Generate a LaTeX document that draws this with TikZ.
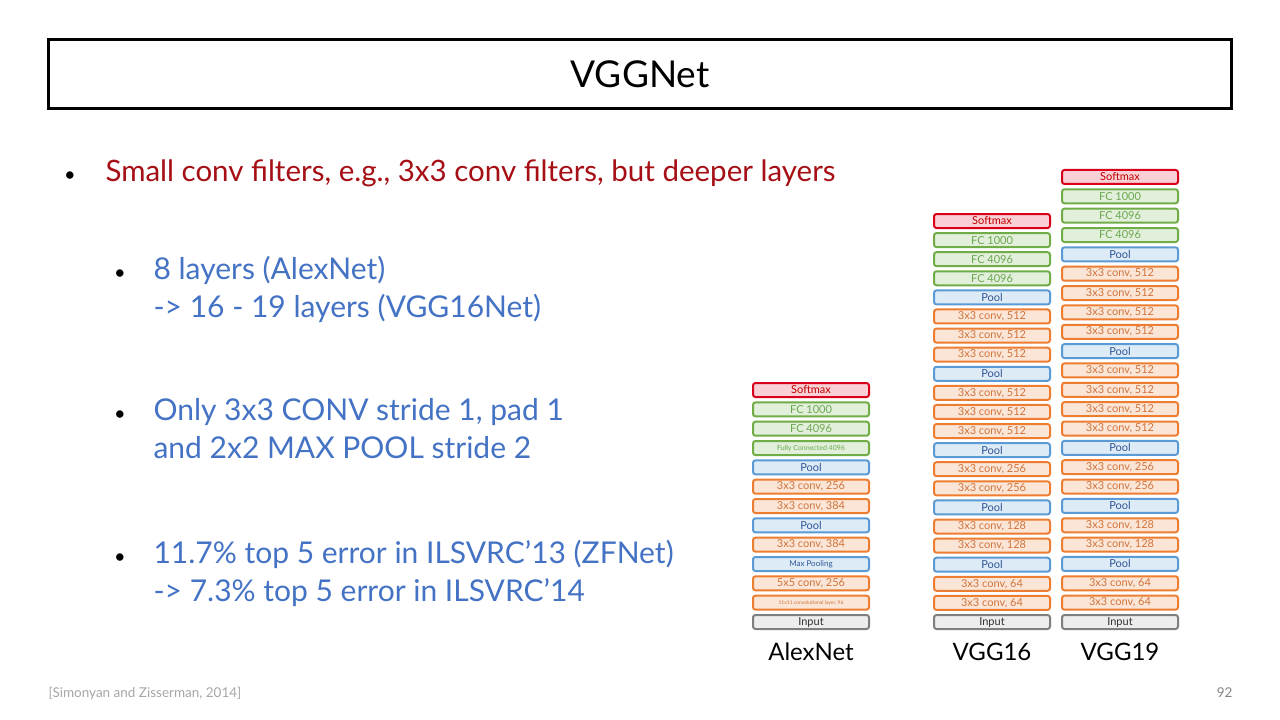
\documentclass[tikz,border=0pt]{standalone}
\usepackage{fontspec}
\setmainfont{Lato}
\usepackage{xcolor}
\usepackage{tikz}
\definecolor{redtxt}{HTML}{A50F15}
\definecolor{bluetxt}{HTML}{4472C4}
\definecolor{foot}{HTML}{A6A6A6}
\definecolor{sfdraw}{HTML}{D9001B}
\definecolor{sffill}{HTML}{F9D0D5}
\definecolor{sftext}{HTML}{C00000}
\definecolor{fcdraw}{HTML}{70AD47}
\definecolor{fcfill}{HTML}{E2EFDA}
\definecolor{fctext}{HTML}{6AA84F}
\definecolor{pldraw}{HTML}{5B9BD5}
\definecolor{plfill}{HTML}{DDEBF7}
\definecolor{pltext}{HTML}{2F5597}
\definecolor{cvdraw}{HTML}{ED7D31}
\definecolor{cvfill}{HTML}{FBE5D6}
\definecolor{cvtext}{HTML}{D0743C}
\definecolor{indraw}{HTML}{7F7F7F}
\definecolor{infill}{HTML}{EDEDED}
\tikzset{
  layer/.style={rounded corners=2.5pt, line width=2pt, minimum width=116pt,
    minimum height=14pt, inner sep=0pt, font=\fontsize{11}{12}\selectfont},
  sfbox/.style={layer, draw=sfdraw, fill=sffill, text=sftext},
  fcbox/.style={layer, draw=fcdraw, fill=fcfill, text=fctext},
  plbox/.style={layer, draw=pldraw, fill=plfill, text=pltext},
  cvbox/.style={layer, draw=cvdraw, fill=cvfill, text=cvtext},
  inbox/.style={layer, draw=indraw, fill=infill, text=black!80},
  big/.style={anchor=base west, text=redtxt, font=\fontsize{29.5}{32}\selectfont},
  sub/.style={anchor=base west, text=bluetxt, font=\fontsize{30}{32}\selectfont},
  dot/.style={anchor=base, font=\fontsize{20}{24}\selectfont},
  colname/.style={font=\fontsize{24}{26}\selectfont}
}

\begin{document}
\begin{tikzpicture}[x=1pt, y=-1pt]
  \useasboundingbox[fill=white] (0,0) rectangle (1280,720);

  \node[draw, line width=3pt, minimum width=1183pt, minimum height=69pt,
    font=\fontsize{37}{40}\selectfont] (title) at (640,74) {VGGNet};

  \node[dot] (b1) at (70,181) {\textbullet};
  \node[big] (t1) at (102,181) {Small conv filters, e.g., 3x3 conv filters, but deeper layers};

  \node[dot] (b2) at (120,279) {\textbullet};
  \node[sub] (t2a) at (150,279) {8 layers (AlexNet)};
  \node[sub] (t2b) at (150,317) {-> 16 - 19 layers (VGG16Net)};

  \node[dot] (b3) at (120,420) {\textbullet};
  \node[sub] (t3a) at (150,420) {Only 3x3 CONV stride 1, pad 1};
  \node[sub] (t3b) at (150,458) {and 2x2 MAX POOL stride 2};

  \node[dot] (b4) at (120,563) {\textbullet};
  \node[sub] (t4a) at (150,563) {11.7\% top 5 error in ILSVRC’13 (ZFNet)};
  \node[sub] (t4b) at (150,601) {-> 7.3\% top 5 error in ILSVRC’14};

  % AlexNet
  \foreach \s/\t [count=\i from 0] in {inbox/Input,
      cvbox/{\fontsize{5}{6}\selectfont 11x11 convolutional layer, 96},
      cvbox/{5x5 conv, 256}, plbox/{\fontsize{8}{9}\selectfont Max Pooling},
      cvbox/{3x3 conv, 384}, plbox/Pool, cvbox/{3x3 conv, 384},
      cvbox/{3x3 conv, 256}, plbox/Pool,
      fcbox/{\fontsize{7}{8}\selectfont Fully Connected 4096},
      fcbox/FC 4096, fcbox/FC 1000, sfbox/Softmax}
    \node[\s] (alex\i) at (811,622-\i*19.33) {\t};

  % VGG16
  \foreach \s/\t [count=\i from 0] in {inbox/Input,
      cvbox/{3x3 conv, 64}, cvbox/{3x3 conv, 64}, plbox/Pool,
      cvbox/{3x3 conv, 128}, cvbox/{3x3 conv, 128}, plbox/Pool,
      cvbox/{3x3 conv, 256}, cvbox/{3x3 conv, 256}, plbox/Pool,
      cvbox/{3x3 conv, 512}, cvbox/{3x3 conv, 512}, cvbox/{3x3 conv, 512}, plbox/Pool,
      cvbox/{3x3 conv, 512}, cvbox/{3x3 conv, 512}, cvbox/{3x3 conv, 512}, plbox/Pool,
      fcbox/FC 4096, fcbox/FC 4096, fcbox/FC 1000, sfbox/Softmax}
    \node[\s] (vsix\i) at (992,622-\i*19.095) {\t};

  % VGG19
  \foreach \s/\t [count=\i from 0] in {inbox/Input,
      cvbox/{3x3 conv, 64}, cvbox/{3x3 conv, 64}, plbox/Pool,
      cvbox/{3x3 conv, 128}, cvbox/{3x3 conv, 128}, plbox/Pool,
      cvbox/{3x3 conv, 256}, cvbox/{3x3 conv, 256}, plbox/Pool,
      cvbox/{3x3 conv, 512}, cvbox/{3x3 conv, 512}, cvbox/{3x3 conv, 512},
      cvbox/{3x3 conv, 512}, plbox/Pool,
      cvbox/{3x3 conv, 512}, cvbox/{3x3 conv, 512}, cvbox/{3x3 conv, 512},
      cvbox/{3x3 conv, 512}, plbox/Pool,
      fcbox/FC 4096, fcbox/FC 4096, fcbox/FC 1000, sfbox/Softmax}
    \node[\s] (vnine\i) at (1120,622-\i*19.35) {\t};

  \node[colname] (alexname) at (811,652) {AlexNet};
  \node[colname] (sixname) at (992,652) {VGG16};
  \node[colname] (ninename) at (1120,652) {VGG19};

  \node[anchor=west, text=foot, font=\fontsize{13.5}{15}\selectfont] (cite) at (45,693) {[Simonyan and Zisserman, 2014]};
  \node[anchor=east, text=foot!80!black, font=\fontsize{13.5}{15}\selectfont] (page) at (1236,693) {92};
\end{tikzpicture}
\end{document}
